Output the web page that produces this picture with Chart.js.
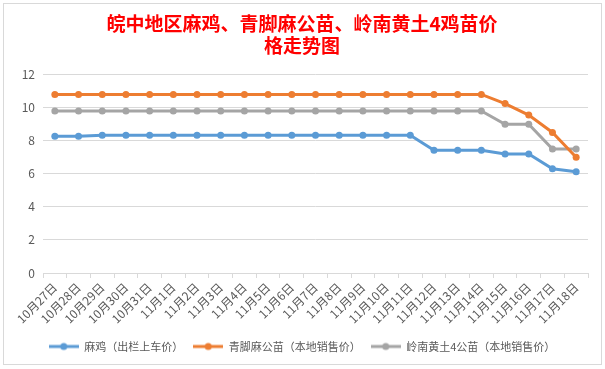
<!DOCTYPE html>
<html>
<head>
<meta charset="utf-8">
<script src="https://cdn.jsdelivr.net/npm/chart.js@4"></script>
<style>
  body { margin: 0; background: #fff; }
  #wrap { width: 605px; height: 369px; }
</style>
</head>
<body>
<div id="wrap"><canvas id="priceChart" width="605" height="369"></canvas></div>
<script>
var dayLabels = ['10月27日','10月28日','10月29日','10月30日','10月31日','11月1日','11月2日','11月3日','11月4日','11月5日','11月6日','11月7日','11月8日','11月9日','11月10日','11月11日','11月12日','11月13日','11月14日','11月15日','11月16日','11月17日','11月18日'];
var maJi = [8.27,8.27,8.33,8.33,8.33,8.33,8.33,8.33,8.33,8.33,8.33,8.33,8.33,8.33,8.33,8.33,7.43,7.43,7.43,7.2,7.2,6.3,6.12];
var qingJiao = [10.8,10.8,10.8,10.8,10.8,10.8,10.8,10.8,10.8,10.8,10.8,10.8,10.8,10.8,10.8,10.8,10.8,10.8,10.8,10.25,9.55,8.5,7.0];
var lingNan = [9.8,9.8,9.8,9.8,9.8,9.8,9.8,9.8,9.8,9.8,9.8,9.8,9.8,9.8,9.8,9.8,9.8,9.8,9.8,9.0,9.0,7.5,7.5];
var seriesNames = ['麻鸡（出栏上车价）','青脚麻公苗（本地销售价）','岭南黄土4公苗（本地销售价）'];
var colors = ['#5b9bd5','#ed7d31','#a5a5a5'];

var fontFamily = '"Noto Sans CJK SC", "Microsoft YaHei", sans-serif';

// legend marker: short line with a dot in the middle, like Excel
function legendMarker(color) {
    var c = document.createElement('canvas');
    c.width = 30; c.height = 10;
    var ctx = c.getContext('2d');
    ctx.strokeStyle = color;
    ctx.lineWidth = 3;
    ctx.beginPath();
    ctx.moveTo(0, 5); ctx.lineTo(30, 5);
    ctx.stroke();
    ctx.fillStyle = color;
    ctx.beginPath();
    ctx.arc(15, 5, 3.5, 0, Math.PI * 2);
    ctx.fill();
    return c;
}
var markers = colors.map(legendMarker);

var frame = {
    id: 'frame',
    beforeDraw: function (chart) {
        var ctx = chart.ctx;
        ctx.save();
        ctx.fillStyle = '#fff';
        ctx.fillRect(0, 0, chart.width, chart.height);
        ctx.strokeStyle = '#d9d9d9';
        ctx.lineWidth = 1;
        ctx.strokeRect(3.5, 3.5, 598, 361);
        ctx.restore();
    }
};

function makeSet(i, data) {
    return {
        label: seriesNames[i],
        data: data,
        borderColor: colors[i],
        backgroundColor: colors[i],
        borderWidth: 3,
        pointRadius: 3.5,
        pointBorderWidth: 0,
        pointBackgroundColor: colors[i],
        tension: 0,
        fill: false
    };
}

new Chart('priceChart', {
    type: 'line',
    plugins: [frame],
    data: {
        labels: dayLabels,
        datasets: [makeSet(0, maJi), makeSet(1, qingJiao), makeSet(2, lingNan)]
    },
    options: {
        responsive: false,
        animation: false,
        layout: { padding: { left: 16, right: 17, top: 0, bottom: 7 } },
        scales: {
            x: {
                offset: true,
                grid: {
                    offset: true,
                    drawOnChartArea: false,
                    drawTicks: true,
                    tickLength: 5,
                    color: '#d9d9d9'
                },
                border: { display: true, color: '#d9d9d9' },
                ticks: {
                    autoSkip: false,
                    minRotation: 45,
                    maxRotation: 45,
                    padding: 2,
                    color: '#595959',
                    font: { family: fontFamily, size: 12 }
                },
                afterFit: function (scale) { scale.height = 58; }
            },
            y: {
                min: 0,
                max: 12,
                ticks: {
                    stepSize: 2,
                    padding: 8,
                    color: '#595959',
                    font: { family: fontFamily, size: 12 }
                },
                grid: { color: '#d9d9d9', drawTicks: false },
                border: { display: false },
                afterFit: function (scale) { scale.width = 27; }
            }
        },
        plugins: {
            title: {
                display: true,
                text: ['皖中地区麻鸡、青脚麻公苗、岭南黄土4鸡苗价', '格走势图'],
                color: '#ff0000',
                font: { family: fontFamily, size: 19, weight: 'bold', lineHeight: 1.2 },
                padding: { top: 12, bottom: 17 }
            },
            legend: {
                position: 'bottom',
                labels: {
                    usePointStyle: true,
                    pointStyleWidth: 30,
                    padding: 10,
                    color: '#595959',
                    font: { family: fontFamily, size: 11 },
                    generateLabels: function (chart) {
                        return chart.data.datasets.map(function (ds, i) {
                            return {
                                text: ds.label,
                                fillStyle: colors[i],
                                strokeStyle: colors[i],
                                pointStyle: markers[i],
                                fontColor: '#595959',
                                hidden: false,
                                datasetIndex: i
                            };
                        });
                    }
                }
            },
            tooltip: { enabled: false }
        }
    }
});
</script>
</body>
</html>
